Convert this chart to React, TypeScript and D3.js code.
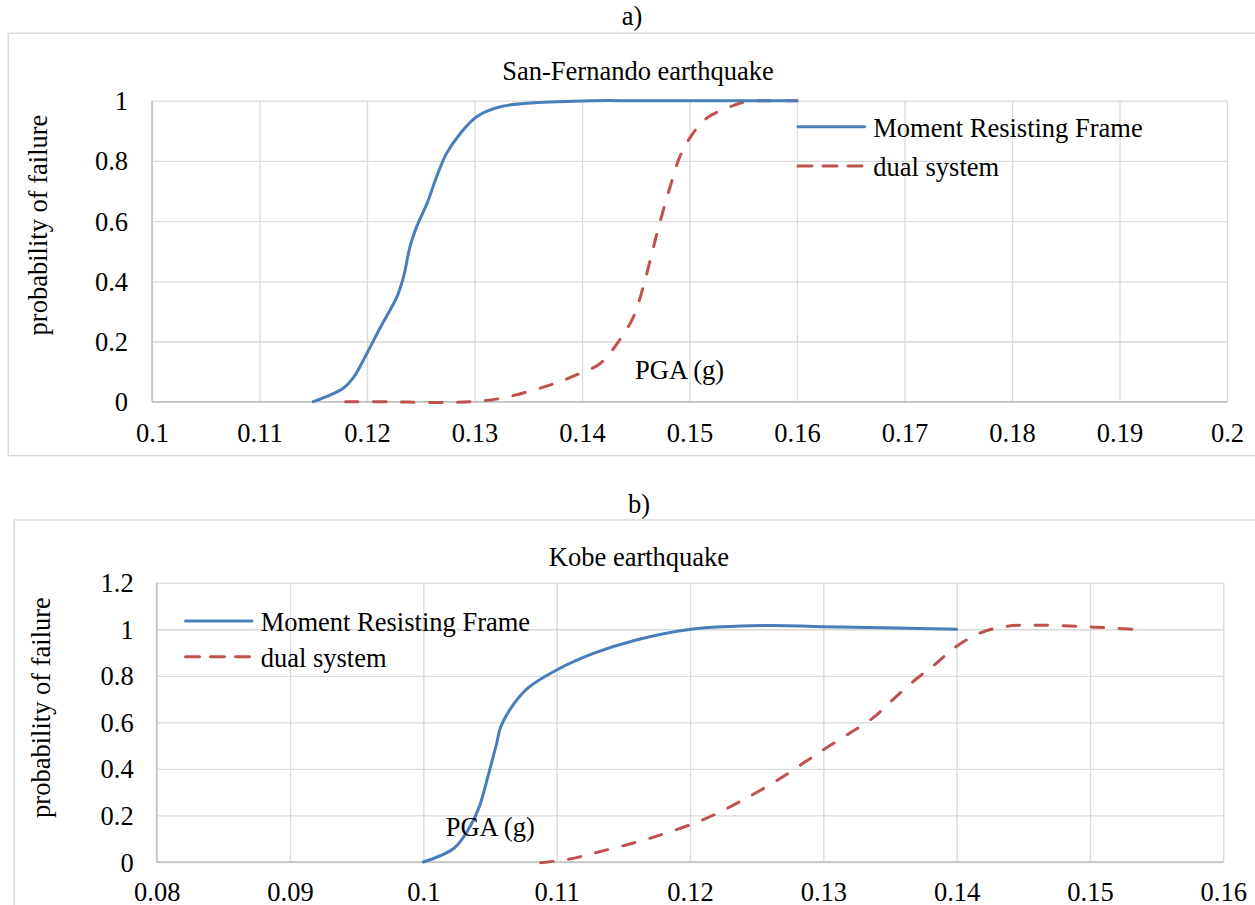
import { useEffect, useRef } from 'react';
import * as d3 from 'd3';

// San-Fernando earthquake (chart a)
const sfMrfPga = [0.115, 0.1178, 0.1187, 0.12, 0.1212, 0.1228, 0.1234, 0.124, 0.1246, 0.1256, 0.1265, 0.1274, 0.1287, 0.1302, 0.1324, 0.1355, 0.141, 0.145, 0.15, 0.155, 0.16];
const sfMrfProb = [0, 0.045, 0.078, 0.161, 0.244, 0.35, 0.415, 0.515, 0.58, 0.66, 0.75, 0.825, 0.892, 0.947, 0.98, 0.993, 1.0, 1.0, 1.0, 1.0, 1.0];
const sfDualPga = [0.118, 0.122, 0.1262, 0.1296, 0.1324, 0.137, 0.1398, 0.1417, 0.1435, 0.1448, 0.1457, 0.1465, 0.1473, 0.1482, 0.1491, 0.1501, 0.1516, 0.1538, 0.1553, 0.1575, 0.16];
const sfDualProb = [0, 0, -0.003, 0, 0.011, 0.055, 0.094, 0.127, 0.205, 0.283, 0.382, 0.493, 0.603, 0.714, 0.814, 0.88, 0.942, 0.98, 0.997, 1.0, 1.0];
const sfXTicks = [0.1, 0.11, 0.12, 0.13, 0.14, 0.15, 0.16, 0.17, 0.18, 0.19, 0.2];
const sfYTicks = [0, 0.2, 0.4, 0.6, 0.8, 1];

// Kobe earthquake (chart b)
const kobeMrfPga = [0.1, 0.1023, 0.1035, 0.1042, 0.1049, 0.1055, 0.1058, 0.1068, 0.1079, 0.11, 0.1128, 0.1159, 0.1201, 0.1258, 0.13, 0.14];
const kobeMrfProb = [0, 0.059, 0.152, 0.238, 0.38, 0.51, 0.58, 0.68, 0.75, 0.825, 0.897, 0.953, 1.0, 1.016, 1.011, 1.0];
const kobeDualPga = [0.1088, 0.1109, 0.1132, 0.117, 0.1209, 0.1235, 0.1266, 0.1285, 0.13, 0.132, 0.1337, 0.1352, 0.1369, 0.1385, 0.14, 0.1419, 0.1438, 0.1465, 0.1503, 0.1533];
const kobeDualProb = [-0.003, 0.012, 0.044, 0.102, 0.18, 0.252, 0.353, 0.425, 0.482, 0.554, 0.618, 0.697, 0.783, 0.855, 0.927, 0.987, 1.013, 1.017, 1.009, 1.0];
const kobeXTicks = [0.08, 0.09, 0.1, 0.11, 0.12, 0.13, 0.14, 0.15, 0.16];
const kobeYTicks = [0, 0.2, 0.4, 0.6, 0.8, 1, 1.2];

const seriesNames = ['Moment Resisting Frame', 'dual system'];

const FONT = '"Liberation Serif", "Times New Roman", serif';
const FS = 26.5;
const GRID = '#d9d9d9';
const AXIS = '#bfbfbf';
const BLUE = '#4a7ebb';
const RED = '#c0504d';

function drawChart(svg, cfg) {
  const { plot } = cfg;
  const g = svg.append('g');

  g.append('rect')
    .attr('x', cfg.frame.x)
    .attr('y', cfg.frame.y)
    .attr('width', cfg.frame.w)
    .attr('height', cfg.frame.h)
    .attr('fill', 'white')
    .attr('stroke', GRID)
    .attr('stroke-width', 1.5);

  const x = d3.scaleLinear().domain(cfg.xDomain).range([plot.left, plot.right]);
  const y = d3.scaleLinear().domain(cfg.yDomain).range([plot.bottom, plot.top]);

  const xAxis = g
    .append('g')
    .attr('transform', `translate(0,${plot.bottom})`)
    .call(
      d3.axisBottom(x)
        .tickValues(cfg.xTicks)
        .tickSize(-(plot.bottom - plot.top))
        .tickSizeOuter(0)
        .tickFormat(d => String(d))
    );
  xAxis.select('.domain').remove();
  xAxis.selectAll('line').attr('stroke', GRID).attr('stroke-width', 1.3);
  xAxis
    .selectAll('text')
    .attr('y', cfg.xLabelOffset)
    .attr('dy', '0.34em')
    .attr('font-family', FONT)
    .attr('font-size', FS)
    .attr('fill', '#000');

  const yAxis = g
    .append('g')
    .attr('transform', `translate(${plot.left},0)`)
    .call(
      d3.axisLeft(y)
        .tickValues(cfg.yTicks)
        .tickSize(-(plot.right - plot.left))
        .tickSizeOuter(0)
        .tickFormat(d => String(d))
    );
  yAxis.select('.domain').remove();
  yAxis.selectAll('line').attr('stroke', GRID).attr('stroke-width', 1.3);
  yAxis
    .selectAll('text')
    .attr('x', -cfg.yLabelOffset)
    .attr('dy', '0.34em')
    .attr('font-family', FONT)
    .attr('font-size', FS)
    .attr('fill', '#000');

  // axis lines
  g.append('line')
    .attr('x1', plot.left).attr('x2', plot.right)
    .attr('y1', plot.bottom).attr('y2', plot.bottom)
    .attr('stroke', AXIS).attr('stroke-width', 1.5);
  g.append('line')
    .attr('x1', plot.left).attr('x2', plot.left)
    .attr('y1', plot.top).attr('y2', plot.bottom)
    .attr('stroke', AXIS).attr('stroke-width', 1.5);

  const line = d3
    .line()
    .x(d => x(d[0]))
    .y(d => y(d[1]))
    .curve(d3.curveCatmullRom.alpha(0.5));

  const dualPts = cfg.dualX.map((v, i) => [v, cfg.dualY[i]]);
  const mrfPts = cfg.mrfX.map((v, i) => [v, cfg.mrfY[i]]);

  g.append('path')
    .attr('d', line(dualPts))
    .attr('fill', 'none')
    .attr('stroke', RED)
    .attr('stroke-width', 3)
    .attr('stroke-linecap', 'round')
    .attr('stroke-dasharray', '12.5,15.5');

  g.append('path')
    .attr('d', line(mrfPts))
    .attr('fill', 'none')
    .attr('stroke', BLUE)
    .attr('stroke-width', 3)
    .attr('stroke-linecap', 'round');

  const text = (tx, ty, s, anchor = 'start') =>
    g.append('text')
      .attr('x', tx)
      .attr('y', ty)
      .attr('text-anchor', anchor)
      .attr('font-family', FONT)
      .attr('font-size', FS)
      .attr('fill', '#000')
      .text(s);

  text(cfg.letter.x, cfg.letter.y, cfg.letter.s, 'middle');
  text(cfg.title.x, cfg.title.y, cfg.title.s, 'middle');
  text(cfg.pga.x, cfg.pga.y, 'PGA (g)');

  g.append('text')
    .attr('transform', `translate(${cfg.yTitle.x},${cfg.yTitle.y}) rotate(-90)`)
    .attr('text-anchor', 'middle')
    .attr('font-family', FONT)
    .attr('font-size', FS)
    .attr('fill', '#000')
    .text('probability of failure');

  // legend
  const lg = cfg.legend;
  const legendItems = [
    { name: seriesNames[0], color: BLUE, dash: null, dy: 0 },
    { name: seriesNames[1], color: RED, dash: '14,11', dy: lg.gap },
  ];
  legendItems.forEach(item => {
    g.append('line')
      .attr('x1', lg.x1).attr('x2', lg.x2)
      .attr('y1', lg.y + item.dy).attr('y2', lg.y + item.dy)
      .attr('stroke', item.color)
      .attr('stroke-width', 3)
      .attr('stroke-linecap', 'round')
      .attr('stroke-dasharray', item.dash);
    text(lg.tx, lg.y + item.dy + 9.8, item.name);
  });
}

export default function App() {
  const ref = useRef(null);

  useEffect(() => {
    const svg = d3.select(ref.current);
    svg.selectAll('*').remove();

    drawChart(svg, {
      frame: { x: 8.3, y: 33.3, w: 1262, h: 422.4 },
      plot: { left: 152, right: 1227, top: 100.7, bottom: 401.7 },
      xDomain: [0.1, 0.2],
      yDomain: [0, 1],
      xTicks: sfXTicks,
      yTicks: sfYTicks,
      xLabelOffset: 31.5,
      yLabelOffset: 24,
      mrfX: sfMrfPga,
      mrfY: sfMrfProb,
      dualX: sfDualPga,
      dualY: sfDualProb,
      letter: { x: 632, y: 25, s: 'a)' },
      title: { x: 638, y: 80, s: 'San-Fernando earthquake' },
      pga: { x: 635, y: 379 },
      yTitle: { x: 47, y: 225 },
      legend: { x1: 798, x2: 864.5, y: 126.7, gap: 39.3, tx: 873.3 },
    });

    drawChart(svg, {
      frame: { x: 14.3, y: 520, w: 1262, h: 420 },
      plot: { left: 156.7, right: 1223.3, top: 582.7, bottom: 862 },
      xDomain: [0.08, 0.16],
      yDomain: [0, 1.2],
      xTicks: kobeXTicks,
      yTicks: kobeYTicks,
      xLabelOffset: 30,
      yLabelOffset: 23,
      mrfX: kobeMrfPga,
      mrfY: kobeMrfProb,
      dualX: kobeDualPga,
      dualY: kobeDualProb,
      letter: { x: 639, y: 512.7, s: 'b)' },
      title: { x: 639, y: 566, s: 'Kobe earthquake' },
      pga: { x: 445.7, y: 835.5 },
      yTitle: { x: 50, y: 707.5 },
      legend: { x1: 185.5, x2: 252, y: 621, gap: 35.7, tx: 260.7 },
    });
  }, []);

  return (
    <svg
      ref={ref}
      width={1255}
      height={905}
      style={{ position: 'absolute', left: 0, top: 0, display: 'block' }}
    />
  );
}
